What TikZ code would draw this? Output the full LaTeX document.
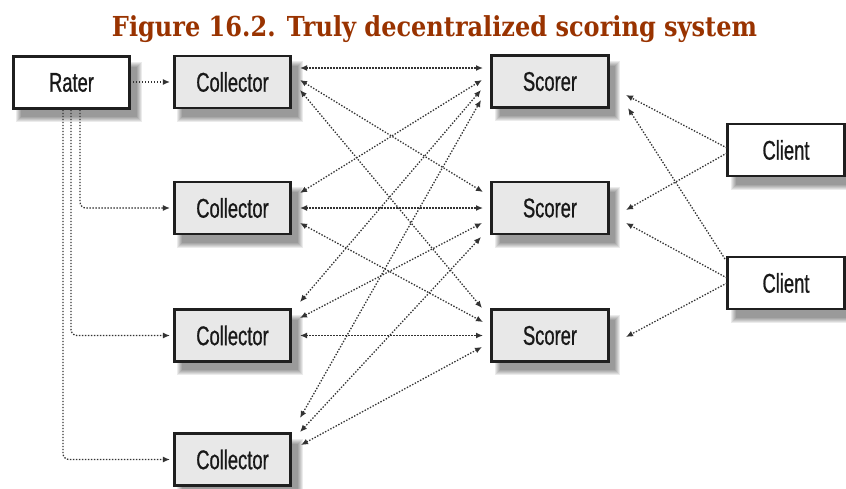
\documentclass[tikz,border=0pt]{standalone}
\usepackage{fontspec}
\setmainfont{Liberation Sans}
\newfontfamily\boxfont[FakeStretch=0.68,FakeBold=0.8]{Liberation Sans}
\newfontfamily\titlefont{DejaVu Serif}
\usetikzlibrary{arrows.meta,calc}
\definecolor{titlecol}{HTML}{993300}
\pgfdeclarelayer{bg}
\pgfsetlayers{bg,main}
\begin{document}
\begin{tikzpicture}[x=1pt,y=-1pt,
  box/.style={draw=black!88, line width=2.6pt, minimum width=116.5pt, minimum height=52pt,
    inner sep=0pt, font=\boxfont\fontsize{27}{27}\selectfont, text=black!90},
  whitebox/.style={box, fill=white},
  graybox/.style={box, fill=black!9},
  link/.style={black!80, line width=1.3pt, dash pattern=on 1.4pt off 1.6pt,
    -{Latex[length=7pt,width=6pt]}},
  bothlink/.style={link, {Latex[length=7pt,width=6pt]}-{Latex[length=7pt,width=6pt]}},
  railink/.style={link, rounded corners=6pt},
]
\useasboundingbox (0,0) rectangle (846,488);

\node[font=\titlefont\bfseries\fontsize{27.5}{27.5}\selectfont, text=titlecol, anchor=base, inner sep=0pt]
  (title) at (434.5,36) {\resizebox{645pt}{\height}{Figure 16.2. Truly decentralized scoring system}};

\node[whitebox] (rater) at (71.5,82.5) {Rater};
\node[graybox] (c1) at (232.5,82) {Collector};
\node[graybox] (c2) at (232.5,208) {Collector};
\node[graybox] (c3) at (232.5,335.5) {Collector};
\node[graybox] (c4) at (232.5,459.5) {Collector};
\node[graybox] (s1) at (550,81.5) {Scorer};
\node[graybox] (s2) at (550,208) {Scorer};
\node[graybox] (s3) at (550,335.5) {Scorer};
\node[whitebox] (k1) at (786,150) {Client};
\node[whitebox] (k2) at (786,283) {Client};

\begin{pgfonlayer}{bg}
\fill[white] (0,0) rectangle (846,488);
\foreach \n in {rater,c1,c2,c3,c4,s1,s2,s3,k1,k2}{
  \foreach \i in {0,...,5}{
    \fill[black,opacity=0.08] ($(\n.north west)+(4.5+\i,6.5+\i)$) rectangle ($(\n.south east)+(10.5-\i,12.5-\i)$);
  }
}
\end{pgfonlayer}

% rater to collectors
\draw[link] ($(rater.east)+(2,-0.5)$) -- ($(c1.west)+(-3,0)$);
\draw[railink] ($(rater.south)+(8.5,0)$) |- ($(c2.west)+(-3,0)$);
\draw[railink] ($(rater.south)+(-0.5,0)$) |- ($(c3.west)+(-3,0)$);
\draw[railink] ($(rater.south)+(-8.5,0)$) |- ($(c4.west)+(-3,0)$);

% collectors <-> scorers
\draw[bothlink] ($(c1.center)+(67.5,-14)$) -- ($(s1.center)+(-67,-13.5)$);
\draw[bothlink] ($(c1.center)+(67.5,-2)$) -- ($(s2.center)+(-67,-16)$);
\draw[bothlink] ($(c1.center)+(67.5,8)$) -- ($(s3.center)+(-68,-27.5)$);
\draw[bothlink] ($(c2.center)+(67.5,-15)$) -- ($(s1.center)+(-68,-1.5)$);
\draw[bothlink] ($(c2.center)+(67.5,0)$) -- ($(s2.center)+(-67,0)$);
\draw[bothlink] ($(c2.center)+(67.5,15)$) -- ($(s3.center)+(-67,-13.5)$);
\draw[bothlink] ($(c3.center)+(67.5,-33.5)$) -- ($(s1.center)+(-69,8.5)$);
\draw[bothlink] ($(c3.center)+(67.5,-17.5)$) -- ($(s2.center)+(-68,15)$);
\draw[bothlink] ($(c3.center)+(67.5,0)$) -- ($(s3.center)+(-67,0)$);
\draw[bothlink] ($(c4.center)+(67.5,-41.5)$) -- ($(s1.center)+(-69,18.5)$);
\draw[bothlink] ($(c4.center)+(67.5,-27.5)$) -- ($(s2.center)+(-69,29)$);
\draw[bothlink] ($(c4.center)+(68.5,-14.5)$) -- ($(s3.center)+(-68,11.5)$);

% clients to scorers
\draw[link] ($(k1.center)+(-59,-2)$) -- ($(s1.center)+(76,13.5)$);
\draw[link] ($(k1.center)+(-59,3)$) -- ($(s2.center)+(76,2)$);
\draw[link] ($(k2.center)+(-61,-24)$) -- ($(s1.center)+(78,26.5)$);
\draw[link] ($(k2.center)+(-59,-5)$) -- ($(s2.center)+(76,15)$);
\draw[link] ($(k2.center)+(-59,0)$) -- ($(s3.center)+(76,1.5)$);
\end{tikzpicture}
\end{document}
